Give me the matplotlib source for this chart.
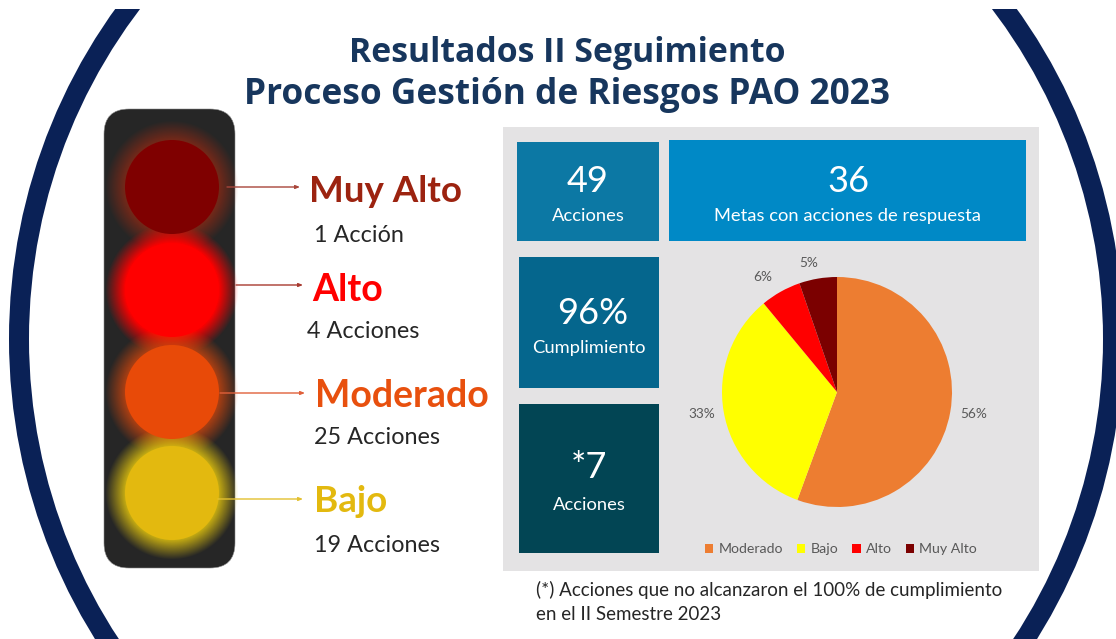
import numpy as np
import matplotlib
matplotlib.use("Agg")
import matplotlib.pyplot as plt
from matplotlib.patches import Ellipse, FancyBboxPatch, Rectangle, Circle

# ---- data ----
pie_labels = ["Moderado", "Bajo", "Alto", "Muy Alto"]
pie_values = [55.6, 33.4, 5.7, 5.3]
pie_colors = ["#ED7D31", "#FFFF00", "#FF0000", "#7B0000"]
level_names = ["Muy Alto", "Alto", "Moderado", "Bajo"]
level_actions = ["1 Acción", "4 Acciones", "25 Acciones", "19 Acciones"]
level_colors = ["#9C2310", "#FF0000", "#E8500E", "#E3B90F"]
light_colors = ["#7F0000", "#FF0000", "#E84A08", "#E3B90F"]
glow_colors = ["#A02A12", "#FF0000", "#D9480C", "#D8BC10"]
arrow_colors = ["#A8453A", "#A83A30", "#E0603A", "#E3C030"]
title_lines = ["Resultados II Seguimiento", "Proceso Gestión de Riesgos PAO 2023"]
footnote = ["(*) Acciones que no alcanzaron el 100% de cumplimiento", "en el II Semestre 2023"]

W, H = 1116, 639
fig = plt.figure(figsize=(W / 100, H / 100), dpi=100, facecolor="white")
ax = fig.add_axes([0, 0, 1, 1])
ax.set_xlim(0, W)
ax.set_ylim(H, 0)
ax.axis("off")

BODY = ["Lato", "Open Sans", "DejaVu Sans"]
HEAD = ["Open Sans", "DejaVu Sans"]
NAVY = "#0A2156"

# outer arcs
clip = Rectangle((0, 9), W, H - 9, transform=ax.transData)
arc = Ellipse((566, 339), 1094, 1104, fill=False, ec=NAVY, lw=14.4, zorder=1)
ax.add_patch(arc)
arc.set_clip_path(clip)

# title
for txt, y, fs in zip(title_lines, [53, 95], [24.4, 25.4]):
    ax.text(567, y, txt, ha="center", va="center", color="#17365D",
            fontsize=fs, fontweight="bold", family=HEAD, zorder=5)

# traffic light
ax.add_patch(FancyBboxPatch((104 + 25, 109 + 25), 131 - 50, 459 - 50,
                            boxstyle="round,pad=25,rounding_size=25",
                            fc="#262626", ec="#8a8a8a", lw=0.4, zorder=2))
centers_y = [187, 290, 392, 493]
gx, gy = np.meshgrid(np.linspace(-80, 80, 161), np.linspace(-80, 80, 161))
gr = np.hypot(gx, gy)
glow_alpha = [0.65, 1.0, 0.75, 0.9]
for cy, lc, gc, ga in zip(centers_y, light_colors, glow_colors, glow_alpha):
    rgba = np.zeros(gr.shape + (4,))
    rgba[..., :3] = matplotlib.colors.to_rgb(gc)
    rgba[..., 3] = ga * np.clip((67 - gr) / 20, 0, 1)
    ax.imshow(rgba, extent=(172 - 80, 172 + 80, cy + 80, cy - 80), zorder=3,
              interpolation="bilinear", aspect="auto")
for cy, lc in zip(centers_y, light_colors):
    ax.add_patch(Circle((172, cy), 47, fc=lc, ec="none", zorder=4))
ax.set_xlim(0, W)
ax.set_ylim(H, 0)

# arrows
arrow_y = [187, 285, 393, 499]
arrow_x0 = [227, 236, 220, 218]
arrow_x1 = [300, 303, 305, 303]
for y, x0, x1, c in zip(arrow_y, arrow_x0, arrow_x1, arrow_colors):
    ax.annotate("", xy=(x1, y), xytext=(x0, y), zorder=5,
                arrowprops=dict(arrowstyle="-|>,head_length=0.25,head_width=0.1", color=c,
                                lw=1.0, shrinkA=0, shrinkB=0))

# level labels
name_x = [309, 312, 315, 314]
name_y = [191, 290, 396, 502]
name_fs = [26.5, 27, 27.0, 26.5]
act_x = [314, 307, 314, 314]
act_y = [236, 331, 438, 546]
for n, a, c, nx, ny, fs, ax_, ay in zip(level_names, level_actions, level_colors, name_x, name_y, name_fs, act_x, act_y):
    ax.text(nx, ny, n, color=c, fontsize=fs, fontweight="bold", family=BODY, ha="left", va="center", zorder=5)
    ax.text(ax_, ay, a, color="#262626", fontsize=16.8, family=BODY, ha="left", va="center", zorder=5)

# panel and cards
ax.add_patch(Rectangle((503, 127), 536, 444, fc="#E4E3E4", ec="none", zorder=1.5))
cards = [
    (517, 142, 142, 99, "#0C78A4", "49", "Acciones", 588, 588, 182, 216),
    (669, 140, 357, 101, "#0089C6", "36", "Metas con acciones de respuesta", 848, 848, 182, 216),
    (519, 257, 140, 131, "#05668D", "96%", "Cumplimiento", 593, 589, 314, 348),
    (519, 404, 140, 149, "#024554", "*7", "Acciones", 589, 589, 468, 505),
]
for x, y, w, h, c, big, small, bx, sx, by, sy in cards:
    ax.add_patch(Rectangle((x, y), w, h, fc=c, ec="none", zorder=2))
    ax.text(bx, by, big, color="white", fontsize=26, family=BODY, ha="center", va="center", zorder=5)
    ax.text(sx, sy, small, color="white", fontsize=13.2, family=BODY, ha="center", va="center", zorder=5)

# footnote
for txt, y in zip(footnote, [590, 614]):
    ax.text(536, y, txt, color="#262626", fontsize=13.5, family=BODY, ha="left", va="center", zorder=5)

# pie
R = 115
cx, cy = 837, 392
side = 2.5 * R
pax = fig.add_axes([(cx - side / 2) / W, 1 - (cy + side / 2) / H, side / W, side / H])
pax.patch.set_alpha(0)
wedges, _, autotexts = pax.pie(pie_values, colors=pie_colors, startangle=90, counterclock=False,
                               autopct="%.0f%%", pctdistance=1.19, radius=1,
                               textprops=dict(color="#595959", fontsize=9.8, family=BODY))
label_offsets = [(1.19, -0.19), (-1.18, -0.19), (-0.643, 1.0), (-0.243, 1.122)]
for t, pos in zip(autotexts, label_offsets):
    t.set_position(pos)
leg = pax.legend(wedges, pie_labels, ncol=4, frameon=False, loc="center",
                 bbox_to_anchor=(841 / W, 1 - 549 / H), bbox_transform=fig.transFigure,
                 handlelength=0.6, handleheight=0.6, handletextpad=0.35,
                 columnspacing=1.0, labelcolor="#595959", prop=dict(family=BODY, size=10.2))

fig.savefig("out.png", dpi=100, facecolor="white")
